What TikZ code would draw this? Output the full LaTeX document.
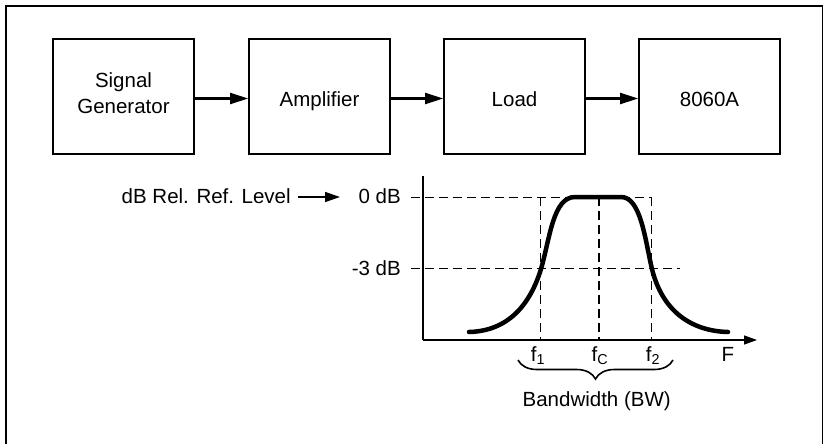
\documentclass[tikz,border=0pt]{standalone}
\usepackage{fontspec}
\setmainfont{Liberation Sans}
\usetikzlibrary{arrows.meta,decorations.pathreplacing}
\begin{document}
\begin{tikzpicture}[x=1pt,y=-1pt,
  every node/.style={font=\fontsize{20.5}{26}\selectfont, inner sep=0pt},
  blockbox/.style={draw, line width=1.8pt, minimum width=141pt, minimum height=115pt},
  boxtext/.style={anchor=base, align=center},
  flow/.style={line width=2.4pt, -{Triangle[length=18pt,width=11pt]}},
  lvlarrow/.style={line width=1.4pt, -{Triangle[length=15pt,width=10pt]}},
  axis/.style={line width=1.3pt},
  guide/.style={line width=1.2pt, dash pattern=on 9pt off 5pt},
  curve/.style={line width=4.5pt, line cap=round},
  lbl/.style={anchor=base}]
\useasboundingbox (0,0) rectangle (824,444);
\fill[white] (0,0) rectangle (824,444);
\draw[line width=1.8pt] (6,460) -- (6,6) -- (822.5,6) -- (822.5,460);

\node[blockbox] (sg) at (123.5,96.5) {};
\node[blockbox] (amp) at (319.5,96.5) {};
\node[blockbox] (load) at (514.5,96.5) {};
\node[blockbox] (dmm) at (709.5,96.5) {};
\node[boxtext] (sgt1) at (123.5,87) {Signal};
\node[boxtext] (sgt2) at (123.5,113) {Generator};
\node[boxtext] (ampt) at (319.5,106) {Amplifier};
\node[boxtext] (loadt) at (514.5,106) {Load};
\node[boxtext] (dmmt) at (709.5,106) {8060A};
\draw[flow] ([yshift=-2pt]sg.east) -- ([yshift=-2pt]amp.west);
\draw[flow] ([yshift=-2pt]amp.east) -- ([yshift=-2pt]load.west);
\draw[flow] ([yshift=-2pt]load.east) -- ([yshift=-2pt]dmm.west);

% labels
\node[anchor=base west] (lvl) at (121.5,203.3) {dB Rel. Ref. Level};
\node[anchor=base east] (zero) at (401,203.3) {0 dB};
\node[anchor=base east] (three) at (401,275) {-3 dB};
\coordinate (lvlA) at (298,197);
\coordinate (lvlB) at (340,197);
\draw[lvlarrow] (lvlA) -- (lvlB);

% axes
\coordinate (ytop) at (423,176);
\coordinate (orig) at (423,340);
\coordinate (xend) at (757,340);
\draw[axis] (ytop) -- (orig);
\draw[axis, -{Triangle[length=13pt,width=9pt]}] (orig) -- (xend);

% guides
\coordinate (g0a) at (410.5,197.3);
\coordinate (g0b) at (652,197.3);
\coordinate (g3a) at (410.5,268.7);
\coordinate (g3b) at (680,268.7);
\draw[guide] (g0a) -- (g0b);
\draw[guide] (g3a) -- (g3b);
\draw[guide] (540.7,197.3) -- (540.7,340);
\draw[guide] (599,197.3) -- (599,340);
\draw[guide] (651.7,197.3) -- (651.7,340);

% response curve
\draw[curve] (469,332) .. controls (508,331) and (530,305) .. (541,269)
  .. controls (550,238) and (553,197) .. (575,197) -- (621,197)
  .. controls (641,197) and (645,240) .. (652,269)
  .. controls (662,310) and (690,331) .. (728,332);

% frequency labels
\node[lbl] (f1) at (538,361.7) {f\textsubscript{1}};
\node[lbl] (fc) at (600,361.7) {f\textsubscript{C}};
\node[lbl] (f2) at (653,361.7) {f\textsubscript{2}};
\node[lbl] (fF) at (728,361.7) {F};

\draw[line width=1.6pt, decorate, decoration={brace, mirror, amplitude=19pt, aspect=0.5}] (518,360) -- (673,360);
\node[lbl] (bw) at (596.7,406.7) {Bandwidth (BW)};
\end{tikzpicture}
\end{document}
